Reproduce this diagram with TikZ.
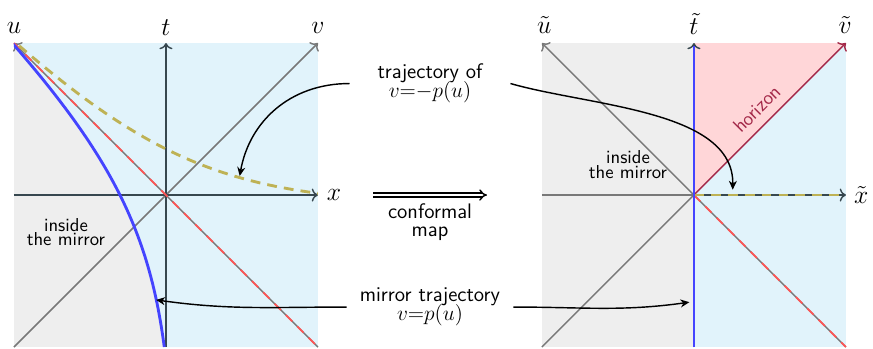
\documentclass[tikz,border=0pt]{standalone}
\usepackage{amsmath}
\usepackage{tikz}
\usetikzlibrary{arrows.meta,positioning}
\definecolor{mirrorBlue}{RGB}{68,68,255}
\definecolor{nullRed}{RGB}{255,85,85}
\definecolor{horizonCrimson}{RGB}{163,40,72}
\definecolor{trajOlive}{RGB}{190,178,85}
\definecolor{skyFill}{RGB}{225,243,251}
\definecolor{mirrorGray}{RGB}{238,238,238}
\definecolor{pinkFill}{RGB}{255,214,216}
\definecolor{axisDark}{RGB}{55,71,79}
\definecolor{axisGray}{RGB}{120,120,120}

\begin{document}
\begin{tikzpicture}[x=1.5cm, y=1.5cm,
  every node/.style={font={\sffamily\fontsize{11.8}{14}\selectfont}},
  axis/.style={thick, axisDark, -{To[length=3.5pt]}},
  nullaxis/.style={thick, axisGray, -{To[length=3.5pt]}},
  axlabel/.style={inner sep=1pt, font={\fontsize{13.5}{16}\selectfont}},
  insidelbl/.style={align=center, font={\sffamily\fontsize{10.5}{12.5}\selectfont}},
  mirrorline/.style={mirrorBlue, line width=1.6pt},
  udash/.style={nullRed, line width=1pt, dash pattern=on 5pt off 4pt},
  pdash/.style={trajOlive, line width=1.6pt, dash pattern=on 5.5pt off 4pt},
  pointer/.style={thick, black, -{Stealth[length=5pt, width=4.5pt]}}]

  \useasboundingbox (-2.184,-2.013) rectangle (9.303,2.566);

  % left panel, (t,x) plane
  \fill[mirrorGray] (-2,-2) rectangle (2,2);
  \begin{scope}
    \clip (-2,-2) rectangle (2,2);
    \fill[skyFill] plot[domain=-2:2.1, samples=60, variable=\s]
      ({0.124-ln(1+exp(0.95*\s))/0.95},{\s}) -- (2,2.1) -- (2,-2) -- cycle;
  \end{scope}

  \draw[nullaxis] (-2,-2) -- (2,2);
  \draw[nullaxis] (2,-2) -- (-2,2);
  \draw[axis] (-2,0) -- (2,0);
  \draw[axis] (0,-2) -- (0,2);
  \draw[udash] (-2,2) -- (2,-2);

  \node[axlabel] (u) at (-2,2.2) {$u$};
  \node[axlabel] (t) at (0,2.2) {$t$};
  \node[axlabel] (v) at (2,2.2) {$v$};
  \node[axlabel] (x) at (2.21,0) {$x$};

  \begin{scope}
    \clip (-2,-2) rectangle (2,2);
    \draw[pdash] plot[domain=2.1:-2, samples=60, variable=\s]
      ({-\s},{ln(1+exp(0.95*\s))/0.95-0.124});
    \draw[mirrorline] plot[domain=-2:2.1, samples=60, variable=\s]
      ({0.124-ln(1+exp(0.95*\s))/0.95},{\s});
  \end{scope}

  \node[insidelbl] (insideL) at (-1.316,-0.49) {inside\\[-4.3pt]the mirror};

  \coordinate (ylwL) at (0.97,0.25);
  \coordinate (mirL) at (-0.13,-1.38);

  % right panel, after the map
  \begin{scope}[shift={(6.947,0)}]
    \fill[mirrorGray] (-2,-2) rectangle (0,2);
    \fill[skyFill] (0,-2) rectangle (2,2);
    \fill[pinkFill] (0,0) -- (0,2) -- (2,2) -- cycle;

    \draw[nullaxis] (2,-2) -- (-2,2);
    \draw[udash] (0,0) -- (2,-2);
    \draw[thick, axisGray] (-2,-2) -- (0,0);
    \draw[thick, horizonCrimson, -{To[length=3.5pt]}] (0,0) -- (2,2)
      node[pos=0.49, sloped, above=4pt, inner sep=1pt, text=horizonCrimson,
           font={\sffamily\fontsize{11}{13}\selectfont}] (hor) {horizon};
    \draw[thick, axisGray] (-2,0) -- (0,0);
    \draw[axis] (0,0) -- (2,0);
    \draw[pdash] (0,0) -- (1.93,0);
    \draw[axis] (0,-2) -- (0,2);
    \draw[mirrorline] (0,-2) -- (0,1.96);

    \node[axlabel] (tu) at (-1.97,2.24) {$\tilde{u}$};
    \node[axlabel] (tt) at (0,2.25) {$\tilde{t}$};
    \node[axlabel] (tv) at (1.99,2.24) {$\tilde{v}$};
    \node[axlabel] (tx) at (2.2,0) {$\tilde{x}$};

    \node[insidelbl] (insideR) at (-0.868,0.4) {inside\\[-4.3pt]the mirror};

    \coordinate (ylwR) at (0.51,0.07);
    \coordinate (mirR) at (-0.06,-1.41);
  \end{scope}

  % middle: the map and the pointers
  \coordinate (mapA) at (2.724,0);
  \coordinate (mapB) at (4.224,0);
  \draw[line width=0.8pt, double, double distance=1.3pt, -{Implies}] (mapA) -- (mapB)
    node[midway, below=1pt, align=center] (maplbl) {conformal\\[-4pt]map};

  \node[align=center, inner xsep=15.5pt] (traj) at (3.474,1.467) {trajectory of\\[-3.5pt]$v{=}{-}p(u)$};
  \node[align=center, inner xsep=7.3pt] (mirr) at (3.474,-1.474) {mirror trajectory\\[-3.5pt]$v{=}p(u)$};

  \draw[pointer] (traj.west) .. controls +(180:0.79) and +(80:0.72) .. (ylwL);
  \draw[pointer] (traj.east) .. controls +(-16:1.09) and +(89:1.05) .. (ylwR);
  \draw[pointer] (mirr.west) to[out=180, in=-8] (mirL);
  \draw[pointer] (mirr.east) to[out=0, in=188] (mirR);
\end{tikzpicture}
\end{document}
